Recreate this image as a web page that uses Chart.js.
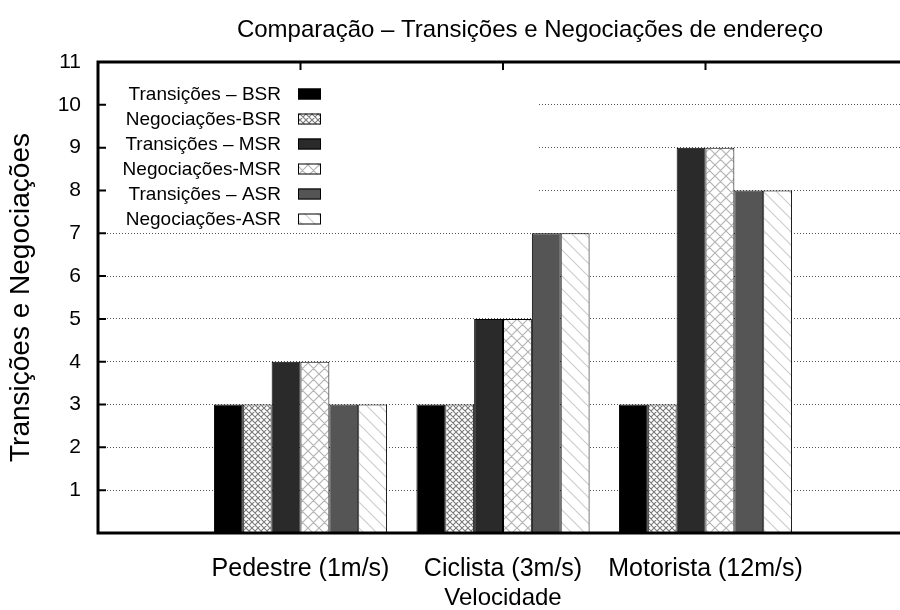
<!DOCTYPE html>
<html>
<head>
<meta charset="utf-8">
<script src="https://cdn.jsdelivr.net/npm/chart.js@4.4.1/dist/chart.umd.min.js"></script>
<style>
  html, body { margin: 0; padding: 0; background: #fff; overflow: hidden; }
  #wrap { width: 900px; height: 610px; overflow: hidden; }
</style>
</head>
<body>
<div id="wrap"><canvas id="chart" width="1060" height="610"></canvas></div>
<script>
// velocidades (categorias do eixo x)
const categories = ['Pedestre (1m/s)', 'Ciclista (3m/s)', 'Motorista (12m/s)'];
const seriesNames = [
    'Transições – BSR', 'Negociações-BSR',
    'Transições – MSR', 'Negociações-MSR',
    'Transições – ASR', 'Negociações-ASR'
];
const transBSR = [3, 3, 3];
const negBSR   = [3, 3, 3];
const transMSR = [4, 5, 9];
const negMSR   = [4, 5, 9];
const transASR = [3, 7, 8];
const negASR   = [3, 7, 8];
const yTicks = [1, 2, 3, 4, 5, 6, 7, 8, 9, 10, 11];

const FONT = '"Liberation Sans", Arial, Helvetica, sans-serif';

// hachuras estilo gnuplot
function makePattern(size, color, lineWidth, dirs) {
    const c = document.createElement('canvas');
    c.width = size;
    c.height = size;
    const g = c.getContext('2d');
    g.fillStyle = '#fff';
    g.fillRect(0, 0, size, size);
    g.strokeStyle = color;
    g.lineWidth = lineWidth;
    g.beginPath();
    if (dirs.includes('\\')) {
        g.moveTo(-1, -1); g.lineTo(size + 1, size + 1);
        g.moveTo(-1, size - 1); g.lineTo(1, size + 1);
        g.moveTo(size - 1, -1); g.lineTo(size + 1, 1);
    }
    if (dirs.includes('/')) {
        g.moveTo(-1, size + 1); g.lineTo(size + 1, -1);
        g.moveTo(-1, 1); g.lineTo(1, -1);
        g.moveTo(size - 1, size + 1); g.lineTo(size + 1, size - 1);
    }
    g.stroke();
    return g.createPattern(c, 'repeat');
}

const ctx = document.getElementById('chart').getContext('2d');
const fills = [
    '#000000',
    makePattern(6, '#7a7a7a', 1.1, '\\/'),
    '#2a2a2a',
    makePattern(11, '#b4b4b4', 1.2, '\\/'),
    '#555555',
    makePattern(13, '#cdcdcd', 1.2, '\\')
];
const values = [transBSR, negBSR, transMSR, negMSR, transASR, negASR];

const datasets = values.map((vals, i) => ({
    label: seriesNames[i],
    data: vals.map((v, j) => ({ x: j + 1, y: v })),
    backgroundColor: fills[i],
    borderColor: '#000',
    borderWidth: 1,
    barPercentage: 1,
    categoryPercentage: 0.855
}));

// moldura, marcas internas e chave (legenda) à moda gnuplot
const gnuplotFrame = {
    id: 'gnuplotFrame',
    beforeDatasetsDraw(chart) {
        const { ctx, chartArea: a } = chart;
        ctx.save();
        ctx.fillStyle = '#fff';
        ctx.fillRect(a.left + 2, a.top + 3, 437, 163);
        ctx.restore();
    },
    afterDraw(chart) {
        const { ctx, chartArea: a, scales } = chart;
        ctx.save();
        ctx.strokeStyle = '#000';
        ctx.lineWidth = 3;
        ctx.strokeRect(a.left, a.top, a.right - a.left, a.bottom - a.top);

        ctx.lineWidth = 2;
        ctx.beginPath();
        yTicks.forEach(t => {
            const y = scales.y.getPixelForValue(t);
            ctx.moveTo(a.left, y); ctx.lineTo(a.left + 8, y);
        });
        categories.forEach((c, i) => {
            const x = scales.x.getPixelForValue(i + 1);
            ctx.moveTo(x, a.top); ctx.lineTo(x, a.top + 8);
        });
        ctx.stroke();

        // chave
        ctx.font = '19px ' + FONT;
        ctx.textAlign = 'right';
        ctx.textBaseline = 'middle';
        ctx.fillStyle = '#000';
        seriesNames.forEach((name, i) => {
            const y = a.top + 32 + i * 25;
            ctx.fillText(name, a.left + 183, y + 1);
            ctx.fillStyle = fills[i];
            ctx.fillRect(a.left + 200, y - 5.5, 23, 11);
            ctx.lineWidth = 1;
            ctx.strokeStyle = '#000';
            ctx.strokeRect(a.left + 200.5, y - 5, 22, 10);
            ctx.fillStyle = '#000';
        });
        ctx.restore();
    }
};

new Chart(ctx, {
    type: 'bar',
    data: { datasets },
    plugins: [gnuplotFrame],
    options: {
        responsive: false,
        animation: false,
        devicePixelRatio: 1,
        layout: { padding: 0 },
        plugins: {
            legend: { display: false },
            tooltip: { enabled: false },
            title: {
                display: true,
                text: 'Comparação – Transições e Negociações de endereço',
                color: '#000',
                font: { family: FONT, size: 24, weight: 'normal', lineHeight: 1.2 },
                padding: { top: 16, bottom: 17.2 }
            }
        },
        scales: {
            x: {
                type: 'linear',
                min: 0,
                max: 4,
                offset: false,
                afterBuildTicks: scale => {
                    scale.ticks = [1, 2, 3].map(v => ({ value: v }));
                },
                afterFit: scale => { scale.height = 77; },
                grid: { display: false, drawTicks: false, offset: false },
                border: { display: false },
                ticks: {
                    color: '#000',
                    padding: 21,
                    maxRotation: 0,
                    autoSkip: false,
                    font: { family: FONT, size: 25 },
                    callback: v => categories[v - 1] || ''
                },
                title: {
                    display: true,
                    text: 'Velocidade',
                    color: '#000',
                    font: { family: FONT, size: 24, lineHeight: 1 },
                    padding: { top: 0, bottom: 0 }
                }
            },
            y: {
                min: 0,
                max: 11,
                afterFit: scale => { scale.width = 98; },
                afterBuildTicks: scale => {
                    scale.ticks = [0].concat(yTicks).map(v => ({ value: v }));
                },
                grid: { color: '#555', lineWidth: 1, drawTicks: false },
                border: { display: false, dash: [1, 2] },
                ticks: {
                    color: '#000',
                    padding: 17,
                    font: { family: FONT, size: 21 },
                    callback: v => (v === 0 ? '' : v)
                },
                title: {
                    display: true,
                    text: 'Transições e Negociações',
                    color: '#000',
                    font: { family: FONT, size: 28 },
                    padding: { top: 4, bottom: 0 }
                }
            },
            // margem direita do gráfico (fica fora da janela)
            yRight: {
                position: 'right',
                min: 0,
                max: 11,
                afterFit: scale => { scale.width = 152; },
                grid: { display: false, drawTicks: false },
                border: { display: false },
                ticks: { display: false }
            }
        }
    }
});
</script>
</body>
</html>
